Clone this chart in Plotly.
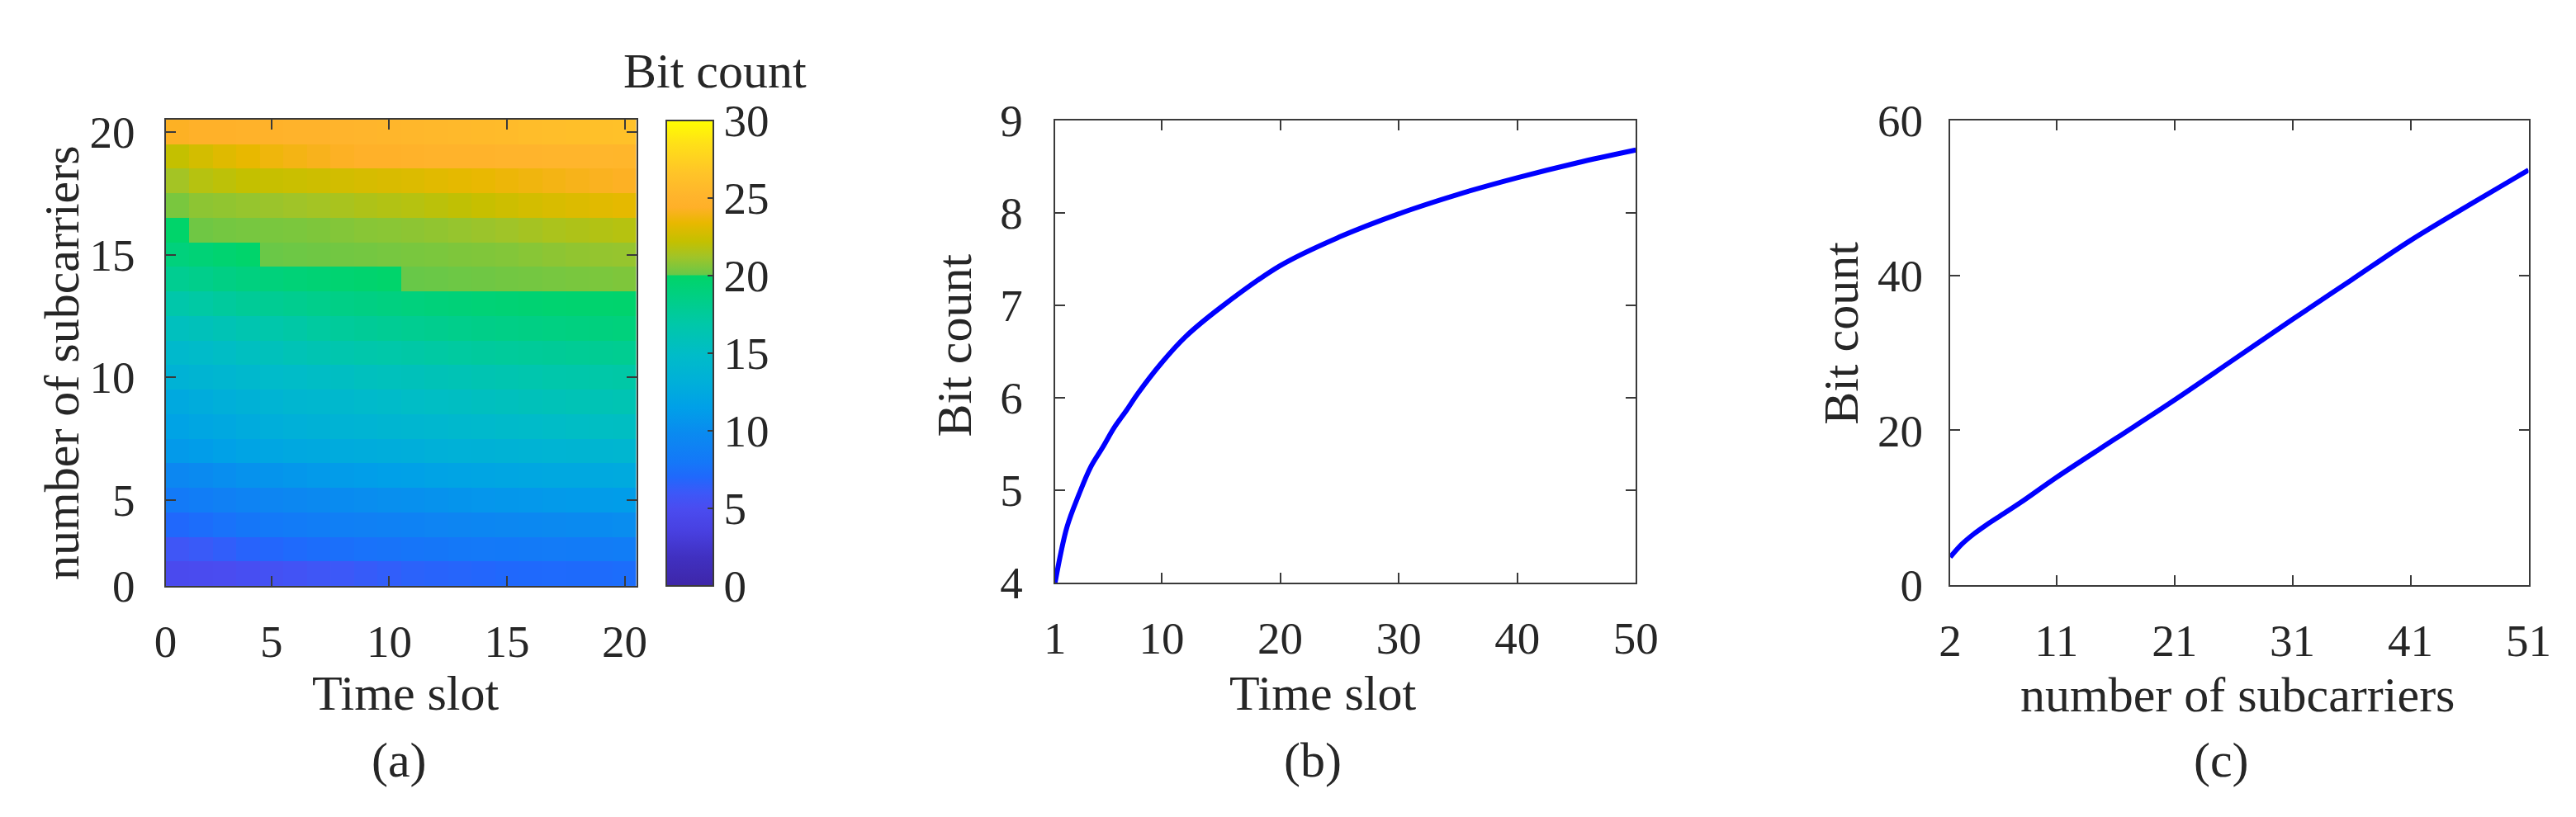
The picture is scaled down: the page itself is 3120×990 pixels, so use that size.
import numpy as np
import plotly.graph_objects as go

W, H = 3120, 990

# ---------------- data ----------------
# panel (a): heatmap, columns = time slot 1..20, rows = subcarriers 2..20 (bottom -> top)
time_slots_a = list(range(1, 21))
subcarriers_a = list(range(2, 21))
bits_grid = [
    [4.8, 4.9, 5.0, 5.2, 5.4, 5.6, 5.8, 6.0, 6.2, 6.4, 6.6, 6.7, 6.8, 6.9, 7.0, 7.05, 7.1, 7.15, 7.2, 7.3],
    [5.8, 6.1, 6.4, 6.7, 6.9, 7.1, 7.3, 7.45, 7.6, 7.7, 7.8, 7.9, 8.0, 8.05, 8.1, 8.2, 8.25, 8.3, 8.4, 8.5],
    [7.0, 7.3, 7.6, 7.9, 8.1, 8.3, 8.5, 8.65, 8.8, 8.9, 9.0, 9.15, 9.3, 9.4, 9.5, 9.6, 9.7, 9.8, 9.9, 10.0],
    [8.2, 8.5, 8.8, 9.1, 9.3, 9.5, 9.7, 9.9, 10.0, 10.15, 10.3, 10.45, 10.6, 10.7, 10.8, 10.9, 11.0, 11.1, 11.2, 11.3],
    [9.5, 9.8, 10.1, 10.4, 10.6, 10.8, 11.0, 11.2, 11.35, 11.5, 11.65, 11.8, 11.9, 12.0, 12.1, 12.2, 12.3, 12.4, 12.5, 12.6],
    [11.0, 11.3, 11.6, 11.9, 12.1, 12.3, 12.5, 12.65, 12.8, 12.9, 13.0, 13.15, 13.3, 13.4, 13.5, 13.6, 13.7, 13.8, 13.9, 14.0],
    [11.8, 12.1, 12.4, 12.7, 12.95, 13.2, 13.4, 13.6, 13.75, 13.9, 14.05, 14.2, 14.35, 14.5, 14.65, 14.8, 14.95, 15.1, 15.2, 15.3],
    [12.5, 12.8, 13.1, 13.4, 13.7, 14.0, 14.2, 14.4, 14.6, 14.8, 15.0, 15.15, 15.3, 15.45, 15.6, 15.75, 15.9, 16.0, 16.1, 16.2],
    [13.5, 13.8, 14.1, 14.4, 14.7, 14.9, 15.1, 15.3, 15.5, 15.65, 15.8, 15.95, 16.1, 16.25, 16.4, 16.55, 16.7, 16.8, 16.9, 17.0],
    [14.5, 14.8, 15.1, 15.4, 15.7, 16.0, 16.3, 16.5, 16.7, 16.85, 17.0, 17.15, 17.3, 17.4, 17.5, 17.6, 17.7, 17.8, 17.9, 18.0],
    [15.5, 15.8, 16.1, 16.4, 16.7, 17.0, 17.3, 17.5, 17.7, 17.85, 18.0, 18.15, 18.3, 18.4, 18.5, 18.6, 18.7, 18.8, 18.9, 19.0],
    [16.8, 17.1, 17.4, 17.7, 17.9, 18.1, 18.3, 18.5, 18.65, 18.8, 18.95, 19.1, 19.2, 19.3, 19.4, 19.5, 19.6, 19.65, 19.7, 19.75],
    [18.0, 18.3, 18.6, 18.85, 19.05, 19.25, 19.4, 19.55, 19.7, 19.85, 20.05, 20.1, 20.15, 20.2, 20.25, 20.3, 20.35, 20.4, 20.45, 20.5],
    [19.0, 19.3, 19.6, 19.85, 20.1, 20.15, 20.2, 20.25, 20.3, 20.35, 20.4, 20.45, 20.5, 20.55, 20.6, 20.7, 20.8, 20.9, 20.95, 21.0],
    [19.9, 20.2, 20.3, 20.35, 20.4, 20.45, 20.5, 20.6, 20.7, 20.75, 20.8, 20.9, 21.0, 21.1, 21.2, 21.35, 21.5, 21.6, 21.7, 21.8],
    [20.4, 20.8, 20.9, 21.0, 21.1, 21.2, 21.3, 21.45, 21.6, 21.7, 21.8, 21.95, 22.1, 22.3, 22.5, 22.7, 22.85, 23.0, 23.15, 23.3],
    [21.3, 21.8, 22.0, 22.2, 22.3, 22.4, 22.5, 22.65, 22.8, 22.9, 23.0, 23.15, 23.3, 23.45, 23.6, 23.75, 23.9, 24.05, 24.2, 24.3],
    [22.2, 22.7, 23.1, 23.4, 23.7, 23.9, 24.1, 24.3, 24.5, 24.6, 24.75, 24.85, 24.95, 25.0, 25.05, 25.1, 25.15, 25.2, 25.25, 25.3],
    [24.3, 24.5, 24.6, 24.7, 24.8, 24.9, 25.0, 25.1, 25.2, 25.3, 25.4, 25.5, 25.6, 25.7, 25.8, 25.9, 26.0, 26.1, 26.2, 26.3],
]
a_xtick_vals = [0.5, 5, 10, 15, 20]
a_xtick_text = ["0", "5", "10", "15", "20"]
a_ytick_vals = [1.5, 5, 10, 15, 20]
a_ytick_text = ["0", "5", "10", "15", "20"]
cbar_ticks = [0, 5, 10, 15, 20, 25, 30]

# panel (b): bit count vs time slot
time_slot_b = [1, 2, 3, 4, 5, 6, 7, 8, 10, 12, 15, 20, 25, 30, 35, 40, 45, 50]
bits_b = [4.0, 4.6, 4.95, 5.25, 5.46, 5.68, 5.86, 6.05, 6.38, 6.66, 6.98, 7.43, 7.74, 7.99, 8.2, 8.38, 8.54, 8.68]
b_xticks = [1, 10, 20, 30, 40, 50]
b_yticks = [4, 5, 6, 7, 8, 9]

# panel (c): bit count vs number of subcarriers
subc_c = [2, 3, 4, 5, 6, 8, 11, 16, 21, 26, 31, 36, 41, 46, 51]
bits_c = [3.6, 5.3, 6.6, 7.7, 8.7, 10.7, 13.9, 18.9, 23.9, 29.1, 34.3, 39.4, 44.5, 49.1, 53.6]
c_xticks = [2, 11, 21, 31, 41, 51]
c_yticks = [0, 20, 40, 60]

# ---------------- style ----------------
FONT = "Liberation Serif, Times New Roman, serif"
TXT = "#262626"
AX = "#3a3a3a"
TICKF = 55
TITLEF = 60

cscale = [
    [0.0, "#3E26A8"], [1.8/30, "#4030C0"], [3.5/30, "#4840E0"], [5/30, "#4A4CF0"],
    [6/30, "#3C58F8"], [7/30, "#2068FC"], [8/30, "#1478F8"], [9.8/30, "#0A8AF0"],
    [11.5/30, "#00A0E8"], [13.2/30, "#00B0D8"], [14.9/30, "#00BCC8"], [16.9/30, "#00C8A8"],
    [18.8/30, "#00D080"], [20/30, "#00D468"], [20.05/30, "#68C848"], [21.2/30, "#A0C428"],
    [22.2/30, "#C4C000"], [23.4/30, "#E8B800"], [24.4/30, "#FFB028"], [25.1/30, "#FFB42C"],
    [26.6/30, "#FFC428"], [28.5/30, "#FFE018"], [1.0, "#FFFF00"],
]

def px_x(x):
    return x / W

def px_y(y):
    return 1 - y / H

fig = go.Figure()

fig.add_trace(go.Heatmap(
    x=time_slots_a, y=subcarriers_a, z=bits_grid,
    colorscale=cscale, zmin=0, zmax=30, xaxis="x", yaxis="y",
    colorbar=dict(
        x=px_x(796), xanchor="left", y=px_y(115), yanchor="top",
        len=(716 - 115) / H, lenmode="fraction", thickness=57, thicknessmode="pixels",
        outlinewidth=2, outlinecolor=AX, xpad=0, ypad=0,
        tickvals=cbar_ticks, ticks="inside", ticklen=8, tickwidth=2, tickcolor=AX,
        tickfont=dict(family=FONT, size=TICKF, color=TXT),
    ),
))

fig.add_trace(go.Scatter(x=time_slot_b, y=bits_b, mode="lines", line=dict(color="#0000FF", width=6, shape="spline"),
                         xaxis="x2", yaxis="y2", showlegend=False))
fig.add_trace(go.Scatter(x=subc_c, y=bits_c, mode="lines", line=dict(color="#0000FF", width=6, shape="spline"),
                         xaxis="x3", yaxis="y3", showlegend=False))

common = dict(showline=True, linecolor=AX, linewidth=2, mirror="ticks", ticks="inside", ticklen=12,
              tickwidth=2, tickcolor=AX, showgrid=False, zeroline=False,
              tickfont=dict(family=FONT, size=TICKF, color=TXT))

fig.update_layout(
    width=W, height=H, margin=dict(l=0, r=0, t=0, b=0),
    paper_bgcolor="white", plot_bgcolor="white", showlegend=False,
    xaxis=dict(domain=[px_x(181), px_x(759)], range=[0.5, 20.5], tickvals=a_xtick_vals, ticktext=a_xtick_text,
               anchor="y", ticklabelstandoff=18, **common),
    yaxis=dict(domain=[px_y(716), px_y(114)], range=[1.5, 20.5], tickvals=a_ytick_vals, ticktext=a_ytick_text,
               anchor="x", ticklabelstandoff=24, **common),
    xaxis2=dict(domain=[px_x(1273), px_x(1986)], range=[1, 50], tickvals=b_xticks,
                anchor="y2", ticklabelstandoff=18, **common),
    yaxis2=dict(domain=[px_y(712), px_y(115)], range=[4, 9], tickvals=b_yticks,
                anchor="x2", ticklabelstandoff=26, **common),
    xaxis3=dict(domain=[px_x(2372), px_x(3082)], range=[2, 51], tickvals=c_xticks,
                anchor="y3", ticklabelstandoff=18, **common),
    yaxis3=dict(domain=[px_y(715), px_y(115)], range=[0, 60], tickvals=c_yticks,
                anchor="x3", ticklabelstandoff=20, **common),
)

def label(text, x, y, angle=0, size=TITLEF):
    fig.add_annotation(text=text, x=px_x(x), y=px_y(y), xref="paper", yref="paper",
                       showarrow=False, textangle=angle, xanchor="center", yanchor="middle",
                       font=dict(family=FONT, size=size, color=TXT))

label("Bit count", 856, 51)
label("Time slot", 476, 855)
label("number of subcarriers", 53, 428, angle=-90)
label("(a)", 468, 941)
label("Bit count", 1149, 406, angle=-90)
label("Time slot", 1602, 855)
label("(b)", 1589, 941)
label("Bit count", 2238, 390, angle=-90)
label("number of subcarriers", 2725, 857)
label("(c)", 2705, 941)

fig.write_html("out.html")
